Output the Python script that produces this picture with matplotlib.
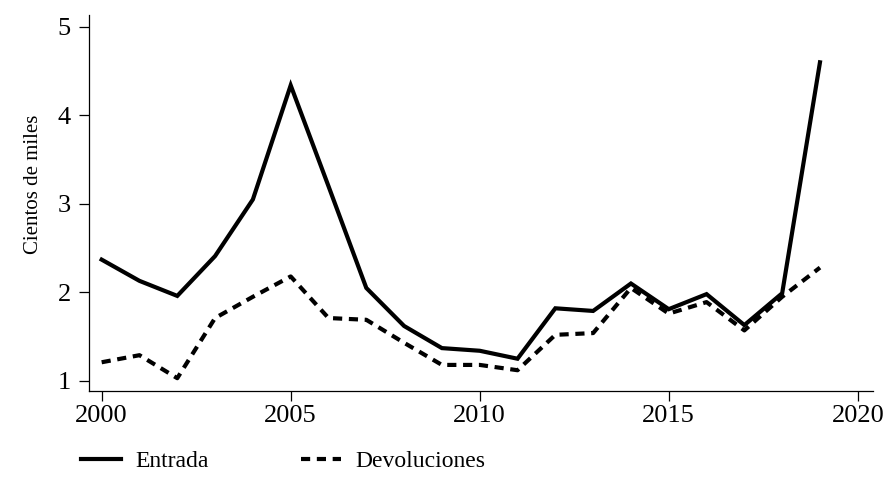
import numpy as np
import matplotlib.pyplot as plt

plt.rcParams['font.family'] = ['Liberation Serif', 'DejaVu Serif']

# Datos (cientos de miles)
anios = list(range(2000, 2020))
entrada = [2.37, 2.13, 1.96, 2.41, 3.05, 4.34, 3.20, 2.05, 1.62, 1.37,
           1.34, 1.25, 1.82, 1.79, 2.10, 1.81, 1.98, 1.63, 1.99, 4.60]
devoluciones = [1.21, 1.29, 1.03, 1.71, 1.95, 2.18, 1.71, 1.69, 1.43, 1.18,
                1.18, 1.12, 1.52, 1.54, 2.05, 1.76, 1.89, 1.57, 1.95, 2.28]

fig = plt.figure(figsize=(8.88, 4.96), dpi=100)
ax = fig.add_axes([0.1, 0.212, 0.883, 0.758])

ax.plot(anios, entrada, color='black', lw=3, solid_joinstyle='miter', label='Entrada')
ax.plot(anios, devoluciones, color='black', lw=3, linestyle=(0, (2.2, 1.6)),
        label='Devoluciones')

ax.set_xlim(1999.66, 2020.4)
ax.set_ylim(0.887, 5.136)
ax.set_xticks([2000, 2005, 2010, 2015, 2020])
ax.set_yticks([1, 2, 3, 4, 5])
ax.spines['top'].set_visible(False)
ax.spines['right'].set_visible(False)
for s in ['left', 'bottom']:
    ax.spines[s].set_linewidth(0.9)
ax.tick_params(direction='out', length=7, width=0.9, labelsize=19)
ax.tick_params(axis='y', pad=6)
ax.set_ylabel('Cientos de miles', fontsize=15)
ax.yaxis.set_label_coords(-0.058, 0.55)

fig.legend(loc='lower left', bbox_to_anchor=(0.067, 0.005), ncol=2,
           frameon=False, fontsize=17, handlelength=1.7, columnspacing=3.9,
           handletextpad=0.62)

fig.savefig('out.png', dpi=100)
